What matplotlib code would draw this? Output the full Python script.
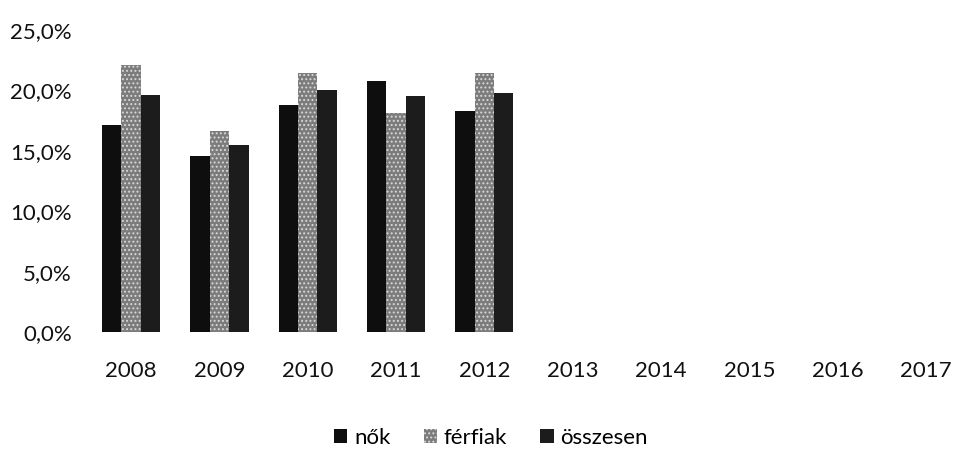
import numpy as np
import matplotlib
matplotlib.use("Agg")
import matplotlib.pyplot as plt

plt.rcParams["font.family"] = ["Lato", "DejaVu Sans"]
plt.rcParams["hatch.linewidth"] = 0.9

years = ["2008", "2009", "2010", "2011", "2012",
         "2013", "2014", "2015", "2016", "2017"]
# only 2008-2012 have data
nok = [17.1, 14.6, 18.8, 20.8, 18.3]
ferfiak = [22.1, 16.6, 21.4, 18.1, 21.4]
osszesen = [19.6, 15.5, 20.0, 19.5, 19.8]
series = [("nők", nok), ("férfiak", ferfiak), ("összesen", osszesen)]
colors = ["#0e0e0e", "#7c7c7c", "#1c1c1c"]
hatches = [None, "....", None]
yticks = [0, 5, 10, 15, 20, 25]

W, H = 956, 457
fig = plt.figure(figsize=(W / 100, H / 100), dpi=100)
ax = fig.add_axes([87 / W, 1 - 332 / H, (970 - 87) / W, (332 - 30) / H])

x = np.arange(len(years))
bw = 0.22
for i, (name, vals) in enumerate(series):
    xs = x[:len(vals)] + (i - 1) * bw
    ax.bar(xs, vals, width=bw, color=colors[i], hatch=hatches[i],
           edgecolor="#d8d8d8" if hatches[i] else colors[i], linewidth=0,
           label=name)

ax.set_xlim(-0.5, len(years) - 0.5)
ax.set_ylim(0, 25)
ax.set_xticks(x)
ax.set_xticklabels(years)
ax.set_yticks(yticks)
ax.set_yticklabels([f"{v:.1f}%".replace(".", ",") for v in yticks])
ax.tick_params(axis="x", length=0, pad=21, labelsize=16, labelcolor="#111111")
ax.tick_params(axis="y", length=0, pad=11, labelsize=16, labelcolor="#111111")
for s in ax.spines.values():
    s.set_visible(False)

fig.legend(loc="center", bbox_to_anchor=(491 / W, 1 - 438 / H), ncol=3,
           frameon=False, fontsize=16, handlelength=0.6, handleheight=0.6,
           handletextpad=0.3, columnspacing=1.5)

fig.savefig("out.png", dpi=100)
